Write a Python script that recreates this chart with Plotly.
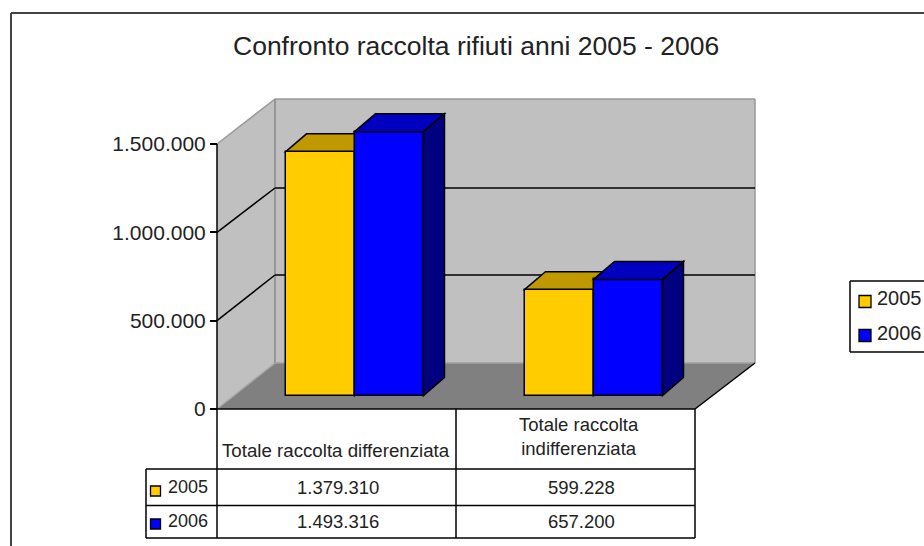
import plotly.graph_objects as go

# ---- data ----
title_text = "Confronto raccolta rifiuti anni 2005 - 2006"
categories = ["Totale raccolta differenziata", "Totale raccolta<br>indifferenziata"]
series_names = ["2005", "2006"]
values_2005 = [1379310, 599228]
values_2006 = [1493316, 657200]
tick_values = [0, 500000, 1000000, 1500000]
tick_labels = ["0", "500.000", "1.000.000", "1.500.000"]
colors_front = ["#FFCC00", "#0000FF"]
colors_top = ["#C09900", "#0000C0"]
colors_side = ["#806600", "#000080"]

# ---- layout geometry (pixels in the 924x546 page) ----
W, H = 924, 546
X0, Y0 = 217, 409          # front-bottom corner of the value axis
CAT_W = 239                # width of one category
PX_PER_UNIT = 265 / 1500000
FONT = "Liberation Sans"
TEXT = "#222222"

def px_x(p):  # page x -> category axis
    return (p - X0) / CAT_W

def px_v(p):  # page y -> value axis
    return (Y0 - p) / PX_PER_UNIT

def px_dy(p):  # pixel height -> value units
    return p / PX_PER_UNIT

FLOOR = px_dy(13.5)        # bars stand back from the front plane
DEPTH_X = 21 / CAT_W
DEPTH_Y = px_dy(18)
BAR_W = 69 / CAT_W
LEFT_OFF = [(285.5 - 217) / CAT_W, (524.5 - 456) / CAT_W]

def px(p):
    return p / W

def py(p):
    return 1 - p / H

def poly(points, fill, line="rgba(0,0,0,0)", width=0, layer="below"):
    d = "M" + "L".join(f"{px(a)},{py(b)}" for a, b in points) + "Z"
    return dict(type="path", path=d, xref="paper", yref="paper", fillcolor=fill,
                line=dict(color=line, width=width), layer=layer)

def seg(x1, y1, x2, y2, color="#000000", width=1.5, layer="below"):
    return dict(type="line", xref="paper", yref="paper", x0=px(x1), y0=py(y1), x1=px(x2), y1=py(y2),
                line=dict(color=color, width=width), layer=layer)

def face(points, fill, layer):
    d = "M" + "L".join(f"{a},{b}" for a, b in points) + "Z"
    return dict(type="path", path=d, xref="x", yref="y", fillcolor=fill,
                line=dict(color="#000000", width=1.5), layer=layer)

shapes = [
    poly([(217, 144), (275, 99), (275, 363), (217, 409)], "#C0C0C0"),
    poly([(275, 99), (755, 99), (755, 363), (275, 363)], "#C0C0C0"),
    poly([(217, 409), (275, 363), (755, 363), (695, 409)], "#808080"),
    seg(217, 144, 275, 99, "#999999"),
    seg(275, 99, 755, 99, "#999999"),
    seg(755, 99, 755, 363, "#999999"),
    seg(275, 99, 275, 363, "#888888"),
    seg(275, 363, 755, 363, "#A0A0A0"),
    seg(217, 409, 275, 363, "#A8A8A8"),
]
# grid lines start at the value axis ticks and run over side and back walls
for tick, gy_back in [(tick_values[2], 188), (tick_values[1], 275)]:
    gy_front = Y0 - tick * PX_PER_UNIT
    shapes += [seg(217, gy_front, 275, gy_back), seg(275, gy_back, 755, gy_back)]
shapes += [seg(217, 144, 217, 409), seg(695, 409, 755, 363)]

# depth faces built from the values
for s, vals in enumerate([values_2005, values_2006]):
    layer = "below" if s == 0 else "above"
    for c, v in enumerate(vals):
        left = c + LEFT_OFF[c] + s * BAR_W
        right = left + BAR_W
        top = FLOOR + v
        shapes.append(face([(left, top), (left + DEPTH_X, top + DEPTH_Y),
                            (right + DEPTH_X, top + DEPTH_Y), (right, top)], colors_top[s], layer))
        shapes.append(face([(right, top), (right + DEPTH_X, top + DEPTH_Y),
                            (right + DEPTH_X, FLOOR + DEPTH_Y), (right, FLOOR)], colors_side[s], layer))

# data table, legend box and page frame
shapes.append(seg(217, 409, 695, 409, layer="above"))
for y in (469, 505.5, 538):
    shapes.append(seg(146, y, 695, y, layer="above"))
for x, y1 in ((146, 469), (217, 409), (456, 409), (695, 409)):
    shapes.append(seg(x, y1, x, 538, layer="above"))
shapes += [
    seg(850, 281, 924, 281, layer="above"),
    seg(850, 352, 924, 352, layer="above"),
    seg(850, 281, 850, 352, layer="above"),
    seg(11, 13, 924, 13, "#444444", 2, "above"),
    seg(11, 13, 11, 546, "#444444", 2, "above"),
]

def fmt(v):
    return f"{v:,}".replace(",", ".")

annotations = []
def note(text, x, y, size=18.5, align="center"):
    annotations.append(dict(text=text, x=px(x), y=py(y), xref="paper", yref="paper", showarrow=False,
                            xanchor="center" if align == "center" else "left", yanchor="middle",
                            align=align, borderpad=0, borderwidth=0,
                            font=dict(family=FONT, size=size, color=TEXT)))

note(title_text, 476, 46, size=26.5)
note(categories[0], 335.5, 450, size=18.7)
note(categories[1], 579, 436, size=18.5)
for row_y, name, vals in [(487, series_names[0], values_2005), (521, series_names[1], values_2006)]:
    note(name, 168, row_y, size=18, align="left")
    note(fmt(vals[0]), 338, row_y)
    note(fmt(vals[1]), 581, row_y)
note(series_names[0], 877, 298, size=20, align="left")
note(series_names[1], 877, 333, size=20, align="left")

fig = go.Figure()
for s, vals in enumerate([values_2005, values_2006]):
    fig.add_trace(go.Bar(
        x=[c + LEFT_OFF[c] + (s + 0.5) * BAR_W for c in range(len(vals))],
        y=vals, base=FLOOR, width=BAR_W, name=series_names[s], showlegend=False,
        marker=dict(color=colors_front[s], line=dict(color="#000000", width=1.5)),
    ))

# swatches in the data table and in the legend box
for s, (row_y, legend_y) in enumerate([(491, 301.5), (524, 335.5)]):
    fig.add_trace(go.Scatter(
        x=[px_x(155.5), px_x(865)], y=[px_v(row_y), px_v(legend_y)], mode="markers", showlegend=False,
        marker=dict(symbol="square", size=[10, 12], color=colors_front[s], opacity=1,
                    line=dict(color="#000000", width=1.3)),
    ))

fig.update_layout(
    width=W, height=H, autosize=False,
    margin=dict(l=0, r=0, t=0, b=0, autoexpand=False),
    paper_bgcolor="#FFFFFF", plot_bgcolor="rgba(0,0,0,0)",
    barmode="overlay", bargap=0,
    showlegend=False,
    xaxis=dict(range=[px_x(0), px_x(W)], visible=False, domain=[0, 1]),
    yaxis=dict(range=[px_v(H), px_v(0)], domain=[0, 1],
               anchor="free", position=px(217), showgrid=False, zeroline=False, showline=False,
               tickmode="array", tickvals=tick_values, ticktext=tick_labels,
               ticks="outside", ticklen=7, tickwidth=1.5, tickcolor="#000000",
               tickfont=dict(family=FONT, size=21, color=TEXT)),
    shapes=shapes, annotations=annotations,
)

fig.write_html("out.html", config=dict(displayModeBar=False),
               post_script="document.body.style.margin='0';document.documentElement.style.overflow='hidden';")
